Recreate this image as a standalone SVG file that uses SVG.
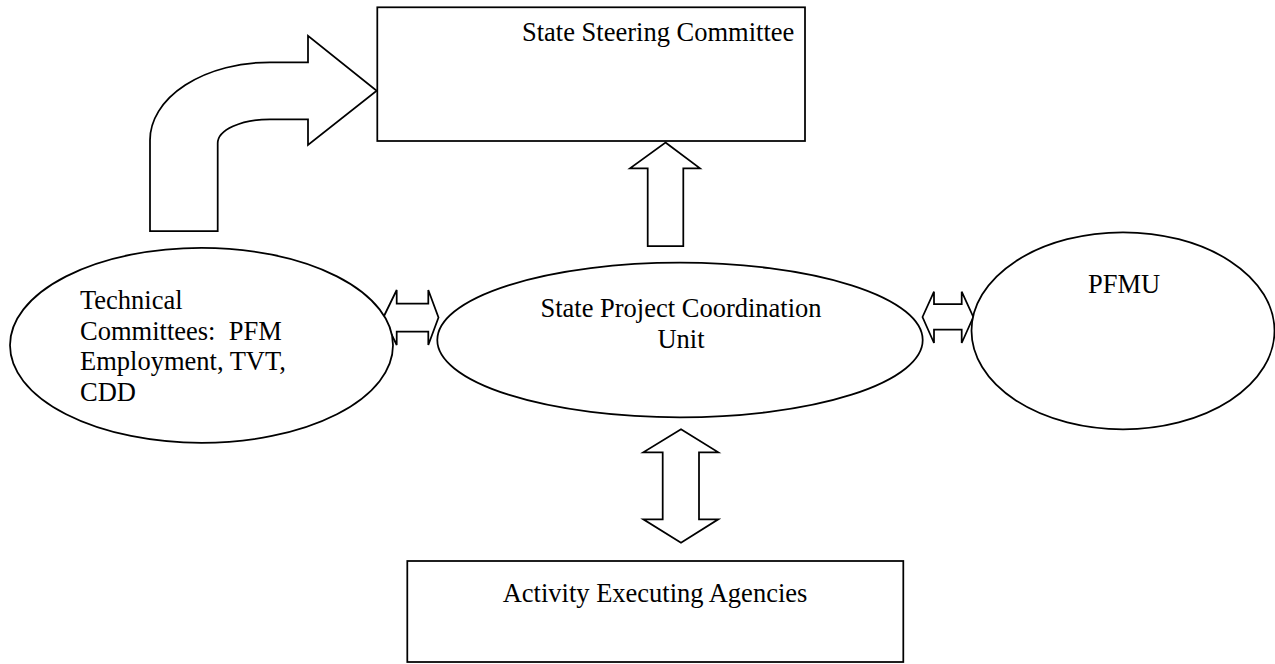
<svg xmlns="http://www.w3.org/2000/svg" width="1275" height="664" viewBox="0 0 1275 664">
<style>
.shape{fill:#fff;stroke:#000;stroke-width:1.75;stroke-linejoin:miter}
.arrow{fill:#fff;stroke:#000;stroke-width:1.75;stroke-linejoin:miter}
.lbl{font-family:"Liberation Serif","Times New Roman",serif;font-size:26.5px;fill:#000}
</style>
<rect width="1275" height="664" fill="#fff"/>
<g id="connectors">
<path class="arrow" d="M150,231 L150,140 A120,78 0 0 1 270,62.3 L308,62.3 L308,35.7 L376.7,90.7 L308,145 L308,119.3 L270,119.3 A52.3,24 0 0 0 217.7,143.3 L217.7,231 Z"/>
<path class="arrow" d="M665.5,142.5 L700,168.3 L683.3,168.3 L683.3,246 L647.7,246 L647.7,168.3 L630,168.3 Z"/>
<path class="arrow" d="M383.3,317.5 L396.7,290 L396.7,303.5 L428.3,303.5 L428.3,290 L438.5,317.5 L428.3,345 L428.3,331.5 L396.7,331.5 L396.7,345 Z"/>
<path class="arrow" d="M922.5,317 L934,291.7 L934,304 L961.7,304 L961.7,291.7 L973.3,317 L961.7,343 L961.7,329.5 L934,329.5 L934,343 Z"/>
<path class="arrow" d="M681,429.3 L718.3,452.3 L699,452.3 L699,519.3 L718.3,519.3 L681,542.7 L643.3,519.3 L662.7,519.3 L662.7,452.3 L643.3,452.3 Z"/>
</g>
<g id="steering">
<rect class="shape" x="377.3" y="7.3" width="427.7" height="133.7"/>
<text class="lbl" x="522" y="41">State Steering Committee</text>
</g>
<g id="technical">
<ellipse class="shape" cx="201.5" cy="345.3" rx="191.5" ry="97.5"/>
<text class="lbl" x="80" y="309">Technical</text>
<text class="lbl" x="80" y="340" xml:space="preserve">Committees:  PFM</text>
<text class="lbl" x="80" y="370">Employment, TVT,</text>
<text class="lbl" x="80" y="401">CDD</text>
</g>
<g id="spcu">
<ellipse class="shape" cx="680" cy="340" rx="242.7" ry="77.3"/>
<text class="lbl" x="681" y="317" text-anchor="middle">State Project Coordination</text>
<text class="lbl" x="681" y="347.5" text-anchor="middle">Unit</text>
</g>
<g id="pfmu">
<ellipse class="shape" cx="1123" cy="330.8" rx="151.5" ry="98.5"/>
<text class="lbl" x="1124" y="293" text-anchor="middle">PFMU</text>
</g>
<g id="agencies">
<rect class="shape" x="407.3" y="561" width="496" height="101"/>
<text class="lbl" x="655" y="602" text-anchor="middle">Activity Executing Agencies</text>
</g>
</svg>
